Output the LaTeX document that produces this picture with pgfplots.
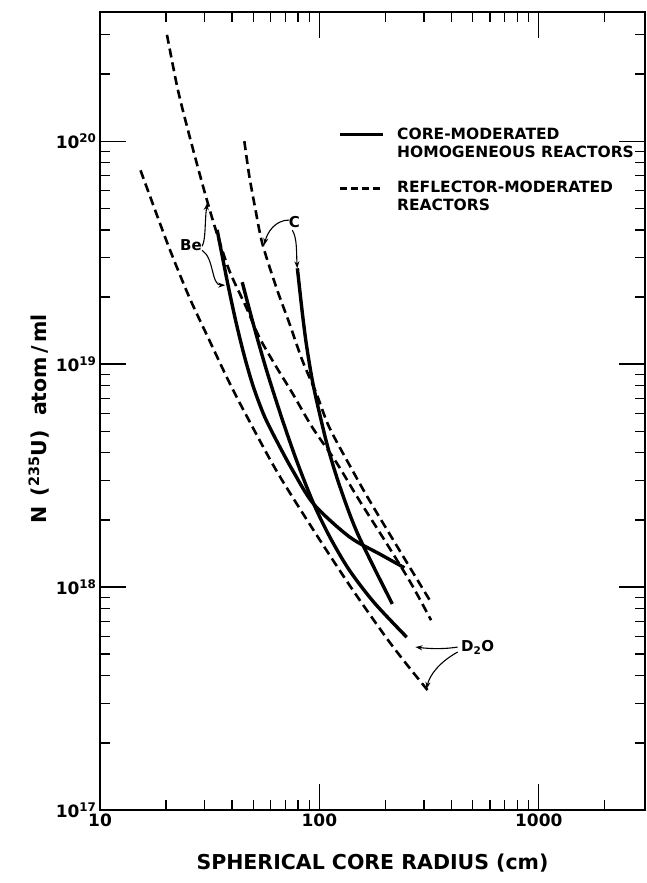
\documentclass[border=0pt]{standalone}
\usepackage{fontspec}
\setmainfont{DejaVu Sans}
\usepackage{pgfplots}
\pgfplotsset{compat=1.18}
\usetikzlibrary{arrows.meta}

\begin{document}
\begin{tikzpicture}
\begin{axis}[
    scale only axis,
    width=545pt, height=798pt,
    xmode=log, ymode=log,
    xmin=10, xmax=3050,
    ymin=1e17, ymax=3.8e20,
    axis line style={line width=1.8pt},
    tick style={line width=1.3pt, black},
    major tick length=26pt,
    minor tick length=10pt,
    xtick={10,100,1000},
    xticklabels={10,100,1000},
    minor xtick={20,30,40,50,60,70,80,90,200,300,400,500,600,700,800,900,2000},
    ytick={1e17,1e18,1e19,1e20},
    yticklabels={10\textsuperscript{17},10\textsuperscript{18},10\textsuperscript{19},10\textsuperscript{20}},
    minor ytick={2e17,3e17,4e17,5e17,6e17,7e17,8e17,9e17,
                 2e18,3e18,4e18,5e18,6e18,7e18,8e18,9e18,
                 2e19,3e19,4e19,5e19,6e19,7e19,8e19,9e19,2e20,3e20},
    tick label style={font=\bfseries\fontsize{17}{17}\selectfont},
    xlabel={SPHERICAL CORE RADIUS (cm)},
    ylabel={N\, (\textsuperscript{235}U)\ \ atom\,/\,ml},
    label style={font=\bfseries\fontsize{20.5}{20.5}\selectfont},
    xlabel style={at={(axis description cs:0.5,-0.066)}, anchor=center},
    ylabel style={at={(axis description cs:-0.112,0.49)}, anchor=center},
]

% reflector-moderated (dashed)
\addplot[black, line width=2.6pt, dash pattern=on 9pt off 5pt, smooth] coordinates {
    (15.3,7.4e19) (16.7,5.85e19) (20.6,3.35e19) (25.5,2.0e19) (31.5,1.28e19)
    (38.8,8.3e18) (46.4,5.9e18) (64,3.3e18) (94,1.8e18) (139,1.0e18)
    (200,6.0e17) (250,4.5e17) (311,3.45e17)
};
\addplot[black, line width=2.6pt, dash pattern=on 9pt off 5pt, smooth] coordinates {
    (20.2,3.0e20) (22.5,1.75e20) (25,1.15e20) (29.2,6.5e19) (33.2,4.2e19)
    (38.8,2.64e19) (46.4,1.8e19) (53.2,1.32e19) (63.7,9.7e18) (75.4,7.4e18)
    (92.9,5.2e18) (120,3.6e18) (152,2.45e18) (200,1.6e18) (260,1.05e18) (323,7.1e17)
};
\addplot[black, line width=2.6pt, dash pattern=on 9pt off 5pt, smooth] coordinates {
    (45.5,1.0e20) (47.9,7.0e19) (51,5.0e19) (54.9,3.49e19) (63.7,2.2e19)
    (72.9,1.53e19) (83.6,1.04e19) (96.8,7.4e18) (111,5.2e18) (140,3.4e18)
    (169,2.45e18) (230,1.48e18) (318,8.75e17)
};

% core-moderated (solid)
\addplot[black, line width=3.4pt, smooth] coordinates {
    (34.2,4.0e19) (38.0,2.36e19) (41.7,1.54e19) (45.7,1.07e19) (50.1,7.87e18)
    (56.2,5.83e18) (64.6,4.43e18) (75.9,3.31e18) (94.4,2.35e18) (137,1.68e18)
    (190,1.4e18) (244,1.22e18)
};
\addplot[black, line width=3.4pt, smooth] coordinates {
    (44.5,2.33e19) (50.1,1.50e19) (57.5,9.35e18) (67.6,5.68e18) (79.4,3.61e18)
    (94.4,2.35e18) (112.2,1.66e18) (137,1.19e18) (177.8,8.51e17) (250,5.96e17)
};
\addplot[black, line width=3.4pt, smooth] coordinates {
    (79.4,2.69e19) (83.6,1.70e19) (87.2,1.23e19) (92.9,8.43e18) (100,6.05e18)
    (109.6,4.19e18) (123.9,2.83e18) (150,1.72e18) (215,8.4e17)
};

% legend
\draw[black, line width=3pt] (rel axis cs:0.440,0.846) -- (rel axis cs:0.519,0.846);
\node[anchor=base west, inner sep=0pt, font=\bfseries\fontsize{15.5}{18}\selectfont]
    at (rel axis cs:0.545,0.8405) {\begin{tabular}[t]{@{}l@{}}CORE-MODERATED\\HOMOGENEOUS REACTORS\end{tabular}};
\draw[black, line width=2.6pt, dash pattern=on 7pt off 4pt] (rel axis cs:0.440,0.779) -- (rel axis cs:0.519,0.779);
\node[anchor=base west, inner sep=0pt, font=\bfseries\fontsize{15.5}{18}\selectfont]
    at (rel axis cs:0.545,0.7743) {\begin{tabular}[t]{@{}l@{}}REFLECTOR-MODERATED\\REACTORS\end{tabular}};

% labels and arrows
\node[font=\bfseries\fontsize{15}{15}\selectfont] at (axis cs:26,3.4e19) {Be};
\draw[line width=1.1pt, -{Stealth[length=7pt,width=5pt]}] (axis cs:29.2,3.38e19)
    .. controls (axis cs:30.4,3.6e19) and (axis cs:30.0,4.4e19) .. (axis cs:30.8,5.27e19);
\draw[line width=1.1pt, -{Stealth[length=7pt,width=5pt]}] (axis cs:29.2,3.24e19)
    .. controls (axis cs:33.2,2.99e19) and (axis cs:32.1,2.26e19) .. (axis cs:37.2,2.26e19);

\node[font=\bfseries\fontsize{15}{15}\selectfont] at (axis cs:76.9,4.33e19) {C};
\draw[line width=1.1pt, -{Stealth[length=7pt,width=5pt]}] (axis cs:72.9,4.43e19)
    .. controls (axis cs:63,4.43e19) and (axis cs:57.9,3.91e19) .. (axis cs:56.1,3.42e19);
\draw[line width=1.1pt, -{Stealth[length=7pt,width=5pt]}] (axis cs:75.3,3.99e19)
    .. controls (axis cs:79.3,3.67e19) and (axis cs:78.5,3.18e19) .. (axis cs:79.3,2.69e19);

\node[font=\bfseries\fontsize{15}{15}\selectfont] at (axis cs:527,5.38e17) {D\textsubscript{2}O};
\draw[line width=1.1pt, -{Stealth[length=7pt,width=5pt]}] (axis cs:427,5.38e17)
    .. controls (axis cs:376,5.27e17) and (axis cs:325,5.27e17) .. (axis cs:274,5.38e17);
\draw[line width=1.1pt, -{Stealth[length=7pt,width=5pt]}] (axis cs:427,5.11e17)
    .. controls (axis cs:353,4.61e17) and (axis cs:318,4.03e17) .. (axis cs:308,3.49e17);

\end{axis}
\pgfresetboundingbox
\path ([xshift=-100pt,yshift=-73pt]current axis.south west) rectangle ([xshift=2pt,yshift=12pt]current axis.north east);
\end{tikzpicture}
\end{document}
